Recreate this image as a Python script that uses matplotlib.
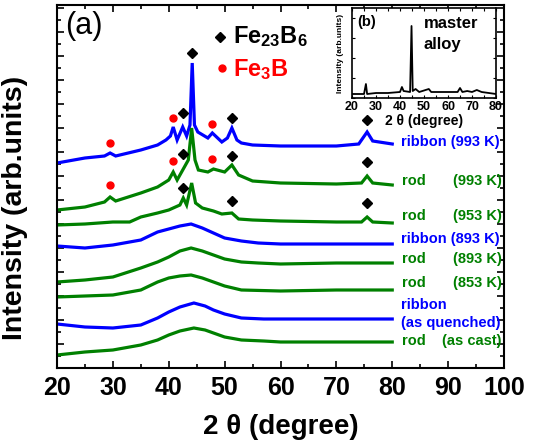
import numpy as np
import matplotlib
matplotlib.use("Agg")
import matplotlib.pyplot as plt
from matplotlib.ticker import MultipleLocator, NullFormatter

plt.rcParams['font.family'] = ['Liberation Sans', 'DejaVu Sans']
plt.rcParams['mathtext.fontset'] = 'custom'
plt.rcParams['mathtext.rm'] = 'Liberation Sans'
plt.rcParams['mathtext.bf'] = 'Liberation Sans:bold'
plt.rcParams['mathtext.default'] = 'bf'

BLUE = '#0000ff'
GREEN = '#008000'
RED = '#ff0000'

# XRD traces (2theta in degree, intensity in arb. units incl. vertical offset)
rib993_x = [20, 25, 28.5, 29.5, 30.5, 35, 38, 39.5, 40.3, 40.8, 41.5, 42.5, 43.2, 43.8, 44.2, 44.6, 45.2,
            47, 47.8, 49.5, 50.5, 51.3, 52.2, 53, 55, 60, 70, 74, 75.5, 76.5, 80]
rib993_y = [205, 210, 212, 215, 212, 218, 223, 228, 232, 241, 228, 241, 232, 243, 305, 243, 236,
            230, 235, 226, 230, 240, 228, 225, 223, 222, 222, 224, 236, 227, 224]

rod993_x = [20, 25, 28.5, 29.5, 30.5, 35, 38, 40, 40.8, 41.5, 42.5, 43.5, 44.1, 44.7, 45.3, 47, 48,
            50, 51.3, 52.5, 55, 60, 70, 74.5, 75.5, 76.5, 80]
rod993_y = [158, 161, 166, 171, 167, 175, 181, 188, 196, 188, 198, 208, 240, 208, 198, 196, 199,
            196, 203, 193, 187, 185, 184, 185, 192, 185, 183]

rod953_x = [20, 25, 30, 33, 35, 38, 40, 42, 42.6, 43.2, 44.1, 44.8, 46, 48, 49.5, 51.3, 52.5,
            55, 60, 70, 74.5, 75.5, 76.5, 80]
rod953_y = [143, 144, 146, 146, 151, 155, 158, 163, 170, 163, 185, 165, 160, 157, 154, 155, 149,
            148, 147, 146, 146, 151, 146, 145]

rib893_x = [20, 25, 30, 35, 38, 40, 42, 44, 46, 48, 50, 53, 56, 60, 70, 80]
rib893_y = [122, 120, 123, 128, 136, 139, 142, 144, 140, 135, 130, 127, 125, 124, 124, 124]

rod893_x = [20, 25, 30, 35, 38, 40, 42, 44, 46, 48, 50, 53, 56, 60, 70, 80]
rod893_y = [86, 88, 91, 100, 106, 111, 117, 120, 117, 113, 109, 106, 105, 104, 105, 105]

rod853_x = [20, 25, 30, 35, 38, 40, 42, 44, 46, 48, 50, 53, 60, 70, 80]
rod853_y = [71, 72, 73, 78, 86, 90, 92, 93, 90, 86, 82, 78, 77, 78, 78]

ribaq_x = [20, 25, 30, 35, 38, 40, 42, 44.5, 46.5, 48, 50, 53, 57, 60, 70, 80]
ribaq_y = [44, 41, 40, 43, 50, 56, 61, 65, 62, 58, 54, 50, 49, 49, 49, 49]

rodcast_x = [20, 25, 30, 35, 38, 40, 42, 44.5, 46.5, 48, 50, 53, 57, 60, 70, 80]
rodcast_y = [13, 16, 18, 23, 28, 33, 37, 40, 38, 35, 31, 28, 27, 26, 26, 26]

# master alloy (inset)
master_x = [20, 25, 25.8, 26.3, 30, 35, 40, 40.8, 41.5, 44.2, 44.8, 45.3, 46.5, 48, 52, 53,
            60, 64, 65, 66, 68, 70, 72, 74, 80]
master_y = [4, 4, 14, 4, 5, 5, 6, 11, 7, 6, 72, 7, 9, 6, 9, 6,
            6, 6, 10, 6, 7, 6, 8, 6, 4]

# phase markers
fe23b6_x = [44.2, 42.5, 51.3, 75.5, 42.5, 51.3, 75.5, 42.5, 51.3, 75.5]
fe23b6_y = [315, 255, 250, 248, 214, 212, 206, 180, 167, 165]
fe3b_x = [29.5, 40.8, 47.8, 29.5, 40.8, 47.8]
fe3b_y = [225, 250, 244, 183, 207, 209]

fig = plt.figure(figsize=(5.35, 4.45), dpi=100)
ax = fig.add_axes([57/535, 1-368/445, (504-57)/535, 363/445])

traces = [(rib993_x, rib993_y, BLUE), (rod993_x, rod993_y, GREEN), (rod953_x, rod953_y, GREEN),
          (rib893_x, rib893_y, BLUE), (rod893_x, rod893_y, GREEN), (rod853_x, rod853_y, GREEN),
          (ribaq_x, ribaq_y, BLUE), (rodcast_x, rodcast_y, GREEN)]
for xs, ys, c in traces:
    ax.plot(xs, ys, color=c, lw=2.3, solid_joinstyle='miter')

ax.plot(fe23b6_x, fe23b6_y, 'D', color='black', ms=5.5, ls='none')
ax.plot(fe3b_x, fe3b_y, 'o', color=RED, ms=5, ls='none')

# sample labels
lab = dict(fontsize=10.5, fontweight='bold', va='center')
ax.text(81.5, 226, 'ribbon (993 K)', color=BLUE, **lab)
ax.text(81.8, 187, 'rod', color=GREEN, **lab)
ax.text(99.6, 187, '(993 K)', color=GREEN, ha='right', **lab)
ax.text(81.8, 152, 'rod', color=GREEN, **lab)
ax.text(99.6, 152, '(953 K)', color=GREEN, ha='right', **lab)
ax.text(81.5, 129, 'ribbon (893 K)', color=BLUE, **lab)
ax.text(81.8, 109, 'rod', color=GREEN, **lab)
ax.text(99.6, 109, '(893 K)', color=GREEN, ha='right', **lab)
ax.text(81.8, 85, 'rod', color=GREEN, **lab)
ax.text(99.6, 85, '(853 K)', color=GREEN, ha='right', **lab)
ax.text(81.5, 63, 'ribbon', color=BLUE, **lab)
ax.text(81.5, 45, '(as quenched)', color=BLUE, **lab)
ax.text(81.8, 27, 'rod', color=GREEN, **lab)
ax.text(99.6, 27, '(as cast)', color=GREEN, ha='right', **lab)

# legend
ax.plot([49.2], [331], 'D', color='black', ms=5.5)
ax.text(51.5, 331, r'Fe$_{23}$B$_{6}$', fontsize=17, fontweight='bold', va='center')
ax.plot([49.5], [300], 'o', color=RED, ms=5)
ax.text(51.5, 298, r'Fe$_{3}$B', fontsize=17, fontweight='bold', va='center', color=RED)

ax.text(21.5, 342, '(a)', fontsize=22, va='center')

ax.set_xlim(20, 100)
ax.set_ylim(0, 363)
ax.xaxis.set_major_locator(MultipleLocator(10))
ax.xaxis.set_minor_locator(MultipleLocator(5))
ax.yaxis.set_major_locator(MultipleLocator(24))
ax.yaxis.set_minor_locator(MultipleLocator(12))
ax.yaxis.set_major_formatter(NullFormatter())
ax.tick_params(which='both', direction='in', top=True, right=True, width=1.2)
ax.tick_params(which='major', length=5)
ax.tick_params(which='minor', length=3)
ax.tick_params(axis='x', labelsize=18, pad=6)
for t in ax.get_xticklabels():
    t.set_fontweight('bold')
for s in ax.spines.values():
    s.set_linewidth(1.5)
ax.set_xlabel('2 θ (degree)', fontsize=20, fontweight='bold', labelpad=10)
ax.set_ylabel('Intensity (arb.units)', fontsize=20.5, fontweight='bold')
ax.yaxis.set_label_coords(-0.065, 0.44)

# inset
ins = fig.add_axes([352/535, 1-98/445, 144/535, 90/445])
ins.plot(master_x, master_y, color='black', lw=1.3)
ins.set_xlim(20, 80)
ins.set_ylim(0, 90)
ins.xaxis.set_major_locator(MultipleLocator(10))
ins.xaxis.set_minor_locator(MultipleLocator(5))
ins.yaxis.set_major_locator(MultipleLocator(20))
ins.yaxis.set_major_formatter(NullFormatter())
ins.tick_params(which='both', direction='in', top=True, right=True, length=2.5, width=0.8)
ins.tick_params(axis='x', labelsize=9, pad=2)
for t in ins.get_xticklabels():
    t.set_fontweight('bold')
for s in ins.spines.values():
    s.set_linewidth(1.2)
ins.set_xlabel('2 θ (degree)', fontsize=10, fontweight='bold', labelpad=1)
ins.set_ylabel('Intensity (arb.units)', fontsize=6, fontweight='bold', labelpad=2)
ins.text(22, 76, '(b)', fontsize=10.5, fontweight='bold', va='center')
ins.text(50, 75, 'master', fontsize=12, fontweight='bold', va='center')
ins.text(50, 54, 'alloy', fontsize=12, fontweight='bold', va='center')

fig.savefig('out.png', dpi=100)
